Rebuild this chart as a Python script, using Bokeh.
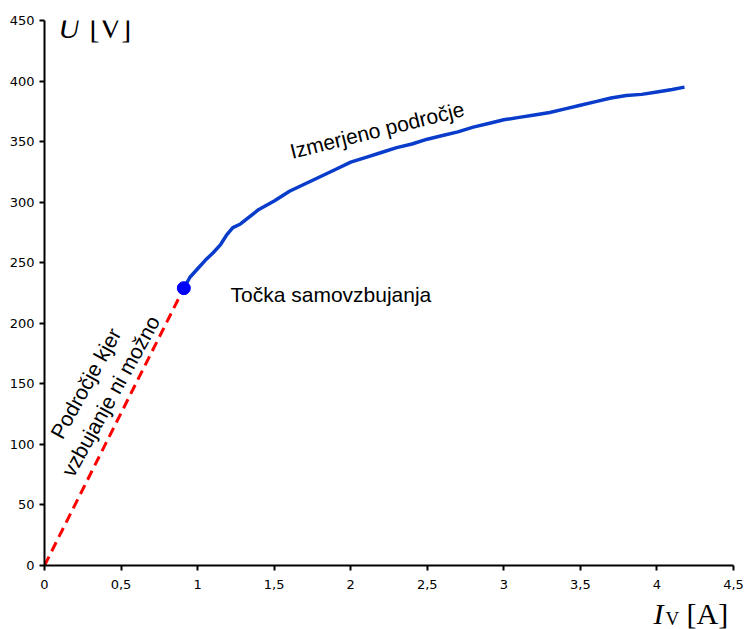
from bokeh.plotting import figure
from bokeh.models import Label, FixedTicker, Range1d
from bokeh.layouts import column
from bokeh.embed import file_html
from bokeh.resources import INLINE

# Data
measured_i = [0.91, 0.95, 1.0, 1.05, 1.1, 1.15, 1.19, 1.23, 1.28, 1.33, 1.4, 1.5, 1.6, 1.7,
              1.8, 1.9, 2.0, 2.1, 2.2, 2.3, 2.4, 2.5, 2.6, 2.7, 2.8, 2.9, 3.0, 3.1, 3.2,
              3.3, 3.4, 3.5, 3.6, 3.7, 3.8, 3.9, 4.0, 4.1, 4.18]
measured_u = [229, 238, 245, 252, 258, 265, 273, 279, 282, 287, 294, 301, 309, 315,
              321, 327, 333, 337, 341, 345, 348, 352, 355, 358, 362, 365, 368, 370, 372,
              374, 377, 380, 383, 386, 388, 389, 391, 393, 395]
extrap_i = [0.0, 0.91]
extrap_u = [0.0, 229]
point_i = [0.91]
point_u = [229]
x_ticks = [0, 0.5, 1, 1.5, 2, 2.5, 3, 3.5, 4, 4.5]
x_tick_labels = ["0", "0,5", "1", "1,5", "2", "2,5", "3", "3,5", "4", "4,5"]
y_ticks = [0, 50, 100, 150, 200, 250, 300, 350, 400, 450]

p = figure(width=745, height=594, x_range=(0, 4.5), y_range=(0, 450),
           output_backend="svg", toolbar_location=None,
           min_border_left=44, min_border_right=12, min_border_top=20, min_border_bottom=29)
p.outline_line_color = None
p.grid.visible = False
p.background_fill_color = "white"
p.border_fill_color = "white"

for ax in (p.xaxis, p.yaxis):
    ax.axis_line_width = 2
    ax.axis_line_color = "black"
    ax.major_tick_line_width = 2
    ax.major_tick_line_color = "black"
    ax.major_tick_in = 0
    ax.major_tick_out = 5
    ax.minor_tick_line_color = None
    ax.major_label_text_font = "DejaVu Sans"
    ax.major_label_text_font_size = "13px"
    ax.major_label_text_color = "black"

p.xaxis.ticker = FixedTicker(ticks=x_ticks)
p.xaxis.major_label_overrides = {t: l for t, l in zip(x_ticks, x_tick_labels)}
p.xaxis.major_label_standoff = 9
p.yaxis.ticker = FixedTicker(ticks=y_ticks)
p.yaxis.major_label_standoff = 5

p.line(extrap_i, extrap_u, line_color="#ff0000", line_width=3, line_dash="10 6")
p.line(measured_i, measured_u, line_color="#0a3ccc", line_width=3.5)
p.scatter(point_i, point_u, size=13, fill_color="#0000ff", line_color="#0000ff")

sans = "Liberation Sans"
serif = "Liberation Serif"


def lab(fig, x, y, text, font, size, angle=0, style="normal"):
    fig.add_layout(Label(x=x, y=y, text=text, angle=angle, angle_units="deg",
                         text_font=font, text_font_size=size, text_font_style=style,
                         text_align="left", text_baseline="alphabetic", text_color="black"))


lab(p, 1.606, 341.7, "Izmerjeno področje", sans, "21px", angle=14)
lab(p, 1.215, 223.6, "Točka samovzbujanja", sans, "21px")
lab(p, 0.075, 106.2, "Področje kjer", sans, "21px", angle=61)
lab(p, 0.147, 75.0, "vzbujanje ni možno", sans, "21px", angle=61)

# Axis title U [V]
lab(p, 0.09, 444, "U", serif, "30px", style="italic")
lab(p, 0.294, 444, "[V]", serif, "30px")

# Strip below the main plot holding the x-axis title
p2 = figure(width=745, height=35, x_range=p.x_range, y_range=Range1d(0, 35),
            output_backend="svg", toolbar_location=None,
            x_axis_location=None, y_axis_location=None,
            min_border_left=44, min_border_right=12, min_border_top=0, min_border_bottom=0)
p2.outline_line_color = None
p2.grid.visible = False
p2.border_fill_color = "white"

lab(p2, 3.978, 16.5, "I", serif, "30px", style="italic")
lab(p2, 4.056, 11.5, "V", serif, "19px")
lab(p2, 4.193, 16.5, "[A]", serif, "30px")

layout = column(p, p2, spacing=0)

open("out.html", "w").write(file_html(layout, INLINE))
